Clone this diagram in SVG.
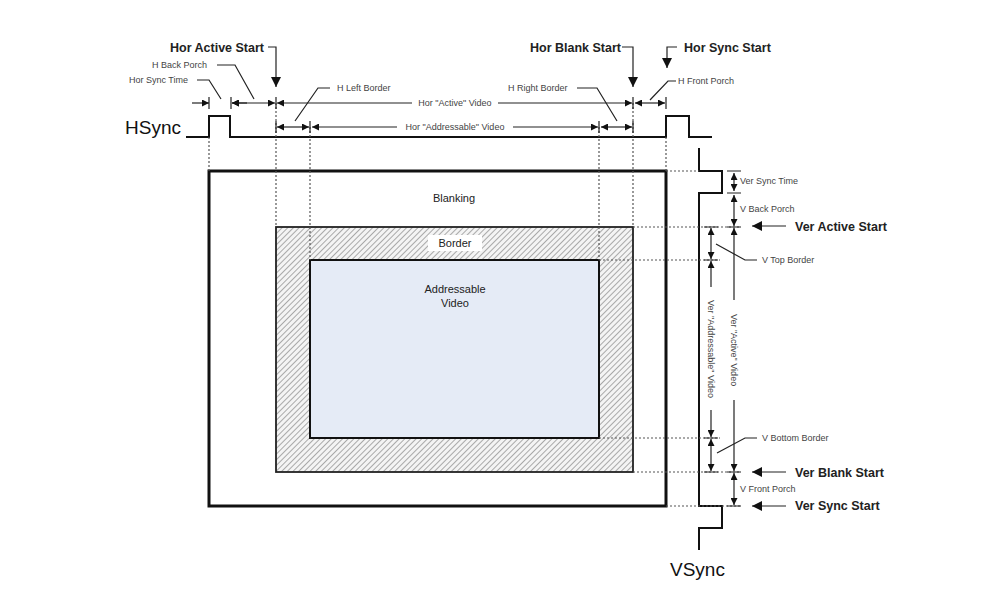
<svg xmlns="http://www.w3.org/2000/svg" width="994" height="593" viewBox="0 0 994 593">
<style>
.s{font-family:"Liberation Sans",Arial,sans-serif;font-size:9px;fill:#444}
.b{font-family:"Liberation Sans",Arial,sans-serif;font-size:12.5px;fill:#222;font-weight:bold}
.m{font-family:"Liberation Sans",Arial,sans-serif;font-size:11px;fill:#222}
.w{fill:none;stroke:#111;stroke-width:2}
.d{fill:none;stroke:#555;stroke-width:1.2;stroke-dasharray:2 2}
.l{fill:none;stroke:#222;stroke-width:1.2}
.t{stroke:#222;stroke-width:1.2}
</style>
<defs>
<marker id="a" viewBox="0 0 10 10" refX="10" refY="5" markerWidth="7" markerHeight="7" orient="auto-start-reverse" markerUnits="userSpaceOnUse"><path d="M0,0L10,5L0,10z" fill="#111"/></marker>
<marker id="A" viewBox="0 0 10 10" refX="10" refY="5" markerWidth="10" markerHeight="10" orient="auto" markerUnits="userSpaceOnUse"><path d="M0,0L10,5L0,10z" fill="#111"/></marker>
<pattern id="h" width="4" height="4" patternUnits="userSpaceOnUse" patternTransform="rotate(45)"><rect width="4" height="4" fill="#f4f4f4"/><line x1="0" y1="0" x2="0" y2="4" stroke="#777" stroke-width="1.2"/></pattern>
</defs>
<rect width="994" height="593" fill="#fff"/>
<g id="blanking"><rect x="209" y="171" width="457" height="335" fill="#fff" stroke="#111" stroke-width="3"/><text class="m" x="454" y="202" text-anchor="middle">Blanking</text></g>
<g id="border"><rect x="276" y="227" width="357" height="245" fill="url(#h)" stroke="#222" stroke-width="1.8"/><rect x="428" y="235" width="54" height="16" fill="#fff"/><text class="m" x="455" y="247" text-anchor="middle">Border</text></g>
<g id="addressable"><rect x="310" y="260" width="289" height="178" fill="#e5ebf6" stroke="#111" stroke-width="2"/><text class="m" x="455" y="293" text-anchor="middle">Addressable</text><text class="m" x="455" y="307" text-anchor="middle">Video</text></g>
<g id="hsync"><text x="125" y="134" style="font-family:'Liberation Sans',Arial,sans-serif;font-size:19px;fill:#111">HSync</text><path class="w" d="M186,137H209V116H230V137H666V116H689V137H712"/></g>
<g id="vsync"><text x="670" y="576" style="font-family:'Liberation Sans',Arial,sans-serif;font-size:19px;fill:#111">VSync</text><path class="w" d="M699,148V171H722V193H699V506H722V528H699V550"/></g>
<g id="connectors">
<path class="d" d="M209,137V171M276,103V227M310,127V260M599,127V260M633,103V227M666,137V171"/>
<path class="d" d="M666,171H699M633,227H740M599,260H720M599,438H720M633,472H740M666,506H740"/>
<!-- horizontal dims -->
<path class="l" d="M192,103H209" marker-end="url(#a)"/>
<path class="l" d="M247,103H232" marker-end="url(#a)"/>
<path class="l" d="M232,103H275" marker-start="url(#a)" marker-end="url(#a)"/>
<path class="l" d="M277,103H412" marker-start="url(#a)"/>
<path class="l" d="M498,103H632" marker-end="url(#a)"/>
<path class="l" d="M635,103H665" marker-start="url(#a)" marker-end="url(#a)"/>
<path class="l" d="M277,127H309" marker-start="url(#a)" marker-end="url(#a)"/>
<path class="l" d="M312,127H397" marker-start="url(#a)"/>
<path class="l" d="M513,127H598" marker-end="url(#a)"/>
<path class="l" d="M601,127H632" marker-start="url(#a)" marker-end="url(#a)"/>
<path class="t" d="M209,97V109M231,97V109M276,97V109M633,97V109M666,97V109M276,121V133M310,121V133M599,121V133M633,121V133"/>
<!-- vertical dims -->
<path class="l" d="M734,173V191" marker-start="url(#a)" marker-end="url(#a)"/>
<path class="l" d="M734,195V226" marker-start="url(#a)" marker-end="url(#a)"/>
<path class="l" d="M734,228V300" marker-start="url(#a)"/>
<path class="l" d="M734,400V471" marker-end="url(#a)"/>
<path class="l" d="M734,473V505" marker-start="url(#a)" marker-end="url(#a)"/>
<path class="l" d="M711,228V259" marker-start="url(#a)" marker-end="url(#a)"/>
<path class="l" d="M711,261V287" marker-start="url(#a)"/>
<path class="l" d="M711,410V437" marker-end="url(#a)"/>
<path class="l" d="M711,439V471" marker-start="url(#a)" marker-end="url(#a)"/>
<path class="t" d="M727,171H741M727,193H741M727,227H741M727,472H741M727,506H741M704,227H718M704,260H718M704,438H718M704,472H718"/>
<!-- leaders -->
<path class="l" d="M268,47H276V87" marker-end="url(#A)"/>
<path class="l" d="M622,47H633V87" marker-end="url(#A)"/>
<path class="l" d="M677,47H667V68" marker-end="url(#A)"/>
<path class="l" d="M217,65H235L254,99"/>
<path class="l" d="M197,80H209L221,99"/>
<path class="l" d="M330,88H318L295,121"/>
<path class="l" d="M577,88H597L617,121"/>
<path class="l" d="M676,81H668L650,100"/>
<path class="l" d="M757,260H745L716,244"/>
<path class="l" d="M757,438H745L717,453"/>
<path class="l" d="M786,226H752" marker-end="url(#A)"/>
<path class="l" d="M786,472H752" marker-end="url(#A)"/>
<path class="l" d="M786,506H752" marker-end="url(#A)"/>
</g>
<g id="labels">
<text class="b" x="170" y="52">Hor Active Start</text>
<text class="b" x="530" y="52">Hor Blank Start</text>
<text class="b" x="684" y="52">Hor Sync Start</text>
<text class="s" x="152" y="68">H Back Porch</text>
<text class="s" x="129" y="83">Hor Sync Time</text>
<text class="s" x="337" y="91">H Left Border</text>
<text class="s" x="508" y="91">H Right Border</text>
<text class="s" x="678" y="84">H Front Porch</text>
<text class="s" x="455" y="106" text-anchor="middle">Hor "Active" Video</text>
<text class="s" x="455" y="130" text-anchor="middle">Hor "Addressable" Video</text>
<text class="s" x="740" y="184">Ver Sync Time</text>
<text class="s" x="740" y="212">V Back Porch</text>
<text class="s" x="762" y="263">V Top Border</text>
<text class="s" x="762" y="441">V Bottom Border</text>
<text class="s" x="740" y="492">V Front Porch</text>
<text class="b" x="795" y="231">Ver Active Start</text>
<text class="b" x="795" y="477">Ver Blank Start</text>
<text class="b" x="795" y="510">Ver Sync Start</text>
<text class="s" transform="translate(708,349) rotate(90)" text-anchor="middle">Ver "Addressable" Video</text>
<text class="s" transform="translate(731,350) rotate(90)" text-anchor="middle">Ver "Active" Video</text>
</g>
</svg>
